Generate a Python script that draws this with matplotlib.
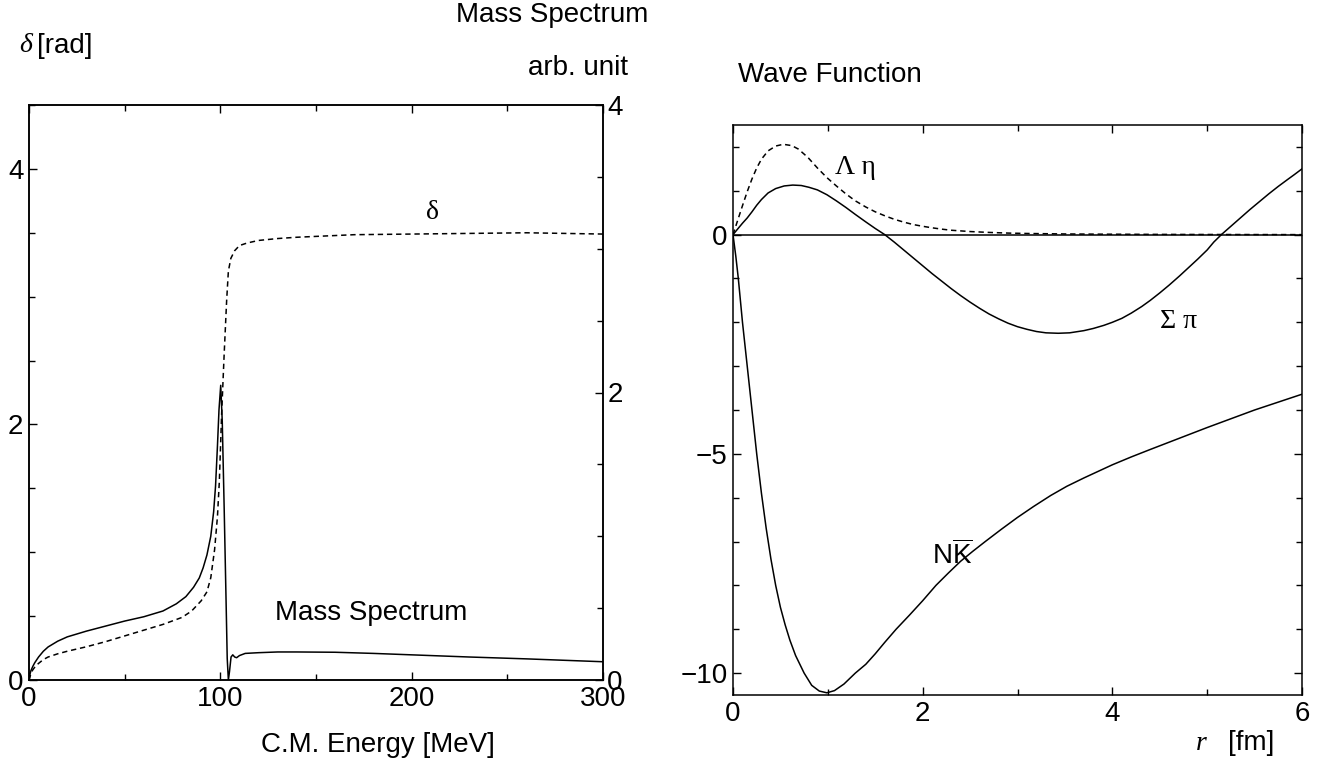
import matplotlib
matplotlib.use("Agg")
import matplotlib.pyplot as plt
from matplotlib.ticker import MultipleLocator

# --- DATA ---
# left panel: phase shift delta [rad] vs C.M. energy [MeV]
e_delta = [0, 1, 2, 3.5, 5, 7.5, 10, 15, 20, 30, 40, 50, 60, 70, 80, 85, 90,
           93, 95, 97, 98.5, 99.5, 100.7, 102, 103.3, 104.2, 105.5, 107.5,
           110, 114, 120, 130, 140, 155, 170, 200, 230, 260, 300]
delta = [0, 0.05, 0.08, 0.11, 0.13, 0.16, 0.18, 0.205, 0.225, 0.26, 0.30,
         0.345, 0.39, 0.435, 0.49, 0.54, 0.62, 0.69, 0.80, 1.02, 1.28, 1.56,
         2.09, 2.55, 2.97, 3.20, 3.30, 3.36, 3.40, 3.42, 3.44, 3.455, 3.465,
         3.475, 3.485, 3.49, 3.495, 3.50, 3.49]

# left panel: mass spectrum [arb. unit] vs C.M. energy [MeV]
e_mass = [0, 0.5, 1, 2, 3, 5, 7.5, 10, 15, 20, 25, 30, 40, 50, 60, 70, 77,
          82, 86, 89, 91, 93, 95, 96.5, 97.5, 98.5, 99.3, 100.2, 101, 102,
          103, 103.6, 104.2, 104.8, 105.6, 106.5, 107.5, 108.5, 110, 113, 120,
          130, 140, 160, 180, 200, 230, 260, 300]
mass = [0, 0.04, 0.065, 0.095, 0.12, 0.16, 0.20, 0.23, 0.27, 0.30, 0.32,
        0.34, 0.375, 0.41, 0.44, 0.48, 0.53, 0.58, 0.645, 0.71, 0.78, 0.87,
        1.0, 1.17, 1.35, 1.63, 1.88, 2.05, 1.8, 1.2, 0.55, 0.15, 0.0, 0.06,
        0.16, 0.175, 0.16, 0.155, 0.17, 0.185, 0.19, 0.195, 0.195, 0.193,
        0.185, 0.175, 0.16, 0.147, 0.127]

# right panel: wave functions vs r [fm]
r_le = [0, 0.05, 0.1, 0.15, 0.2, 0.25, 0.3, 0.37, 0.45, 0.53, 0.62, 0.69,
        0.79, 0.89, 0.99, 1.09, 1.19, 1.29, 1.4, 1.5, 1.6, 1.7, 1.8, 1.9,
        2.0, 2.1, 2.2, 2.3, 2.5, 2.7, 2.9, 3.1, 3.5, 3.9, 4.5, 5.0, 6.0]
wf_le = [0, 0.33, 0.66, 0.98, 1.27, 1.52, 1.72, 1.91, 2.02, 2.06, 2.03, 1.95,
         1.76, 1.52, 1.30, 1.11, 0.93, 0.77, 0.63, 0.52, 0.43, 0.35, 0.285,
         0.23, 0.19, 0.155, 0.125, 0.10, 0.07, 0.05, 0.035, 0.026, 0.015,
         0.01, 0.005, 0.003, 0.0]

r_sp = [0, 0.05, 0.1, 0.15, 0.2, 0.25, 0.3, 0.37, 0.45, 0.54, 0.63, 0.72,
        0.8, 0.89, 0.99, 1.09, 1.19, 1.29, 1.4, 1.5, 1.6, 1.7, 1.8, 1.9, 2.0,
        2.1, 2.2, 2.3, 2.4, 2.5, 2.6, 2.7, 2.8, 2.9, 3.0, 3.1, 3.2, 3.3,
        3.43, 3.55, 3.7, 3.8, 3.91, 4.0, 4.1, 4.2, 4.31, 4.4, 4.5, 4.6, 4.71,
        4.8, 4.9, 5.0, 5.07, 5.15, 5.25, 5.35, 5.45, 5.55, 5.65, 5.75, 5.85,
        5.92, 6.0]
wf_sp = [0, 0.13, 0.26, 0.38, 0.52, 0.67, 0.80, 0.95, 1.05, 1.11, 1.13, 1.12,
         1.08, 1.02, 0.91, 0.77, 0.62, 0.46, 0.29, 0.14, 0.0, -0.17, -0.35,
         -0.53, -0.71, -0.89, -1.06, -1.23, -1.39, -1.54, -1.68, -1.81,
         -1.92, -2.02, -2.10, -2.16, -2.21, -2.24, -2.25, -2.24, -2.19,
         -2.14, -2.07, -2.0, -1.91, -1.79, -1.64, -1.50, -1.33, -1.15, -0.94,
         -0.76, -0.56, -0.35, -0.17, 0.0, 0.19, 0.38, 0.57, 0.75, 0.93, 1.10,
         1.26, 1.37, 1.50]

r_nk = [0, 0.03, 0.056, 0.1, 0.15, 0.2, 0.25, 0.3, 0.35, 0.4, 0.45, 0.5,
        0.55, 0.6, 0.66, 0.75, 0.83, 0.91, 0.99, 1.07, 1.17, 1.29, 1.4, 1.5,
        1.6, 1.72, 1.86, 2.0, 2.14, 2.27, 2.4, 2.53, 2.66, 2.83, 3.0, 3.17,
        3.35, 3.52, 3.7, 3.85, 4.0, 4.2, 4.4, 4.7, 5.0, 5.25, 5.5, 5.75, 6.0]
wf_nk = [0, -0.5, -1.0, -2.0, -3.0, -4.0, -5.0, -5.9, -6.7, -7.4, -8.0, -8.5,
         -8.9, -9.25, -9.6, -10.0, -10.28, -10.41, -10.45, -10.40, -10.25,
         -10.0, -9.8, -9.56, -9.3, -9.0, -8.68, -8.35, -8.0, -7.72, -7.45,
         -7.22, -7.0, -6.72, -6.45, -6.2, -5.95, -5.74, -5.55, -5.4, -5.25,
         -5.07, -4.9, -4.65, -4.4, -4.2, -4.0, -3.82, -3.64]

# --- STYLE ---
plt.rcParams["font.family"] = ["Liberation Sans", "DejaVu Sans"]
plt.rcParams["font.size"] = 20
plt.rcParams["mathtext.fontset"] = "custom"
plt.rcParams["mathtext.rm"] = "Liberation Sans"
plt.rcParams["axes.linewidth"] = 1.1
greek = ["Liberation Serif", "DejaVu Serif"]
lw = 1.1
dash = (0, (3.5, 2.5))
W, H = 1331, 768


def ticks(ax, **kw):
    ax.tick_params(which="both", direction="in", width=1.0, **kw)
    ax.tick_params(which="major", length=6)
    ax.tick_params(which="minor", length=4)


fig = plt.figure(figsize=(W / 100, H / 100), dpi=100)

# --- LEFT PANEL ---
ax1 = fig.add_axes([29 / W, 1 - 680 / H, (603 - 29) / W, (680 - 105) / H])
ax1.plot(e_delta, delta, color="black", lw=lw, linestyle=dash)
ax1.set_xlim(0, 300)
ax1.set_ylim(0, 4.5)
ax1.set_xticks([0, 100, 200, 300])
ax1.xaxis.set_minor_locator(MultipleLocator(50))
ax1.set_yticks([0, 2, 4])
ax1.yaxis.set_minor_locator(MultipleLocator(0.5))
ticks(ax1, top=True, right=False, pad=4)

ax1r = ax1.twinx()
ax1r.plot(e_mass, mass, color="black", lw=lw)
ax1r.set_ylim(0, 4)
ax1r.set_yticks([0, 2, 4])
ax1r.yaxis.set_minor_locator(MultipleLocator(0.5))
ticks(ax1r, left=False, right=True, pad=3)

ax1.text(211, 3.66, "δ", family=greek, fontsize=20, ha="center", va="center")
ax1r.text(179, 0.465, "Mass Spectrum", ha="center", va="center")

fig.text(19 / W, 1 - 46 / H, "δ", family=greek, style="italic",
         fontsize=20, ha="left", va="center")
fig.text(37 / W, 1 - 46 / H, "[rad]", ha="left", va="center")
fig.text(552 / W, 1 - 15 / H, "Mass Spectrum", ha="center", va="center")
fig.text(578 / W, 1 - 68 / H, "arb. unit", ha="center", va="center")
fig.text(378 / W, 1 - 745 / H, "C.M. Energy [MeV]", ha="center", va="center")

# --- RIGHT PANEL ---
ax2 = fig.add_axes([733 / W, 1 - 695 / H, (1302 - 733) / W, (695 - 125) / H])
ax2.axhline(0, color="black", lw=lw)
ax2.plot(r_le, wf_le, color="black", lw=lw, linestyle=dash)
ax2.plot(r_sp, wf_sp, color="black", lw=lw)
ax2.plot(r_nk, wf_nk, color="black", lw=lw)
ax2.set_xlim(0, 6)
ax2.set_ylim(-10.5, 2.5)
ax2.set_xticks([0, 2, 4, 6])
ax2.xaxis.set_minor_locator(MultipleLocator(1))
ax2.set_yticks([-10, -5, 0])
ax2.yaxis.set_minor_locator(MultipleLocator(1))
ticks(ax2, top=True, right=True, pad=4)

ax2.text(1.29, 1.54, "Λ η", family=greek, fontsize=20, ha="center", va="center")
ax2.text(4.70, -1.99, "Σ π", family=greek, fontsize=20, ha="center", va="center")
ax2.text(2.31, -7.30, r"N$\overline{\mathrm{K}}$", ha="center", va="center")

fig.text(830 / W, 1 - 75 / H, "Wave Function", ha="center", va="center")
fig.text(1196 / W, 1 - 743 / H, "r", family=greek, style="italic",
         fontsize=20, ha="left", va="center")
fig.text(1228 / W, 1 - 743 / H, "[fm]", ha="left", va="center")

fig.savefig("out.png", dpi=100)
